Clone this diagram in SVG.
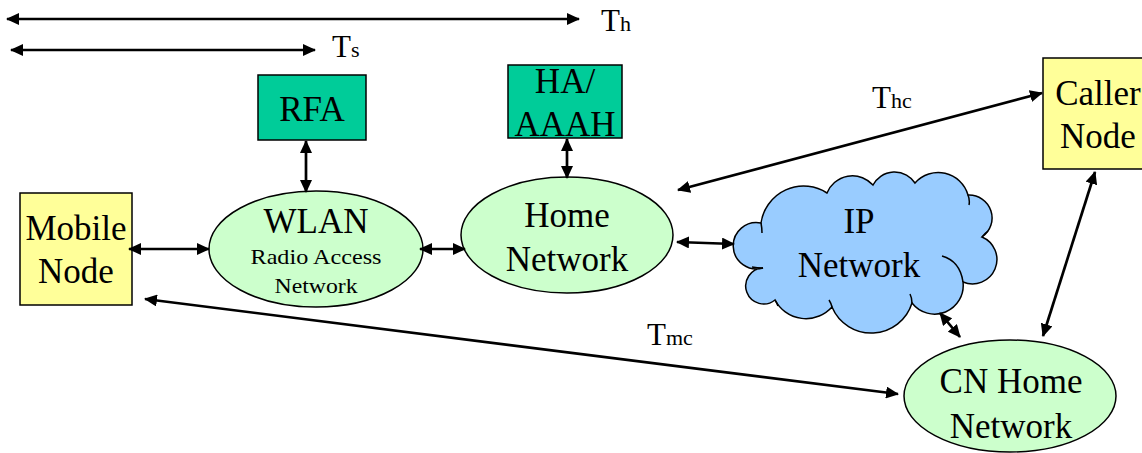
<svg xmlns="http://www.w3.org/2000/svg" width="1142" height="453" viewBox="0 0 1142 453">
  <style>
    .lbl { font-family: "Liberation Serif", "Times New Roman", serif; fill: #000; }
    .big { font-size: 35px; text-anchor: middle; }
    .small { font-size: 21px; text-anchor: middle; }
    .box { stroke: #000; stroke-width: 1.5; }
    .mn { fill: #FFFF99; }
    .agent { fill: #00CC99; }
    .net { fill: #CCFFCC; stroke: #000; stroke-width: 1.5; }
    .cloud { fill: #99CCFF; stroke: #000; stroke-width: 1.5; }
    .cloudline { fill: none; stroke: #000; stroke-width: 1.5; }
    .conn line { stroke: #000; stroke-width: 2.7; marker-start: url(#ah); marker-end: url(#ah); }
  </style>
  <defs>
    <marker id="ah" viewBox="0 0 13 12" refX="12" refY="6" markerWidth="13" markerHeight="12" markerUnits="userSpaceOnUse" orient="auto-start-reverse">
      <path d="M0,0 L13,6 L0,12 z" fill="#000"/>
    </marker>
  </defs>

  <rect width="1142" height="453" fill="#fff"/>

  <!-- timing spans -->
  <g id="timing-labels" class="lbl">
    <text x="601" y="31"><tspan font-size="31">T</tspan><tspan font-size="22">h</tspan></text>
    <text x="332" y="57"><tspan font-size="31">T</tspan><tspan font-size="22">s</tspan></text>
    <text x="872" y="108"><tspan font-size="31">T</tspan><tspan font-size="22">hc</tspan></text>
    <text x="647" y="345"><tspan font-size="31">T</tspan><tspan font-size="22">mc</tspan></text>
  </g>

  <g id="mobile-node">
    <rect class="box mn" x="20" y="193" width="112" height="112"/>
    <text class="lbl big" x="76" y="240">Mobile</text>
    <text class="lbl big" x="76" y="283">Node</text>
  </g>

  <g id="rfa">
    <rect class="box agent" x="258" y="75" width="108" height="65"/>
    <text class="lbl big" x="312" y="121">RFA</text>
  </g>

  <g id="ha-aaah">
    <rect class="box agent" x="508" y="65" width="114" height="73"/>
    <text class="lbl big" x="565" y="93">HA/</text>
    <text class="lbl big" x="565" y="136">AAAH</text>
  </g>

  <g id="wlan">
    <ellipse class="net" cx="316" cy="249" rx="107" ry="58"/>
    <text class="lbl big" x="316" y="233">WLAN</text>
    <text class="lbl small" x="316" y="264" textLength="131" lengthAdjust="spacingAndGlyphs">Radio Access</text>
    <text class="lbl small" x="316" y="293" textLength="83" lengthAdjust="spacingAndGlyphs">Network</text>
  </g>

  <g id="home-network">
    <ellipse class="net" cx="567" cy="235" rx="106" ry="58"/>
    <text class="lbl big" x="567" y="227">Home</text>
    <text class="lbl big" x="567" y="271">Network</text>
  </g>

  <g id="ip-network">
    <path class="cloud" d="M761,223 A43 43 0 0 1 827,193 A27.5 27.5 0 0 1 873,185 A24.4 24.4 0 0 1 915,183 A31 31 0 0 1 968,195 A23 23 0 0 1 982,237 A24.4 24.4 0 0 1 963,282 A28.6 28.6 0 0 1 912,303 A42.6 42.6 0 0 1 832,307 A35 35 0 0 1 775,300 A18 18 0 1 1 763,268 A23.2 23.2 0 1 1 761,223 Z"/>
    <path class="cloudline" d="M761,223 Q762,228 762,233 M942,256 Q960,261 963,282 M763,268 Q757,268 752,267 M982,237 Q985,233 988,231 M912,303 Q912,298 910,294 M832,307 Q831,303 829,300 M775,300 Q777,303 778,306 M968,195 Q970,200 969,205"/>
    <text class="lbl big" x="859" y="233">IP</text>
    <text class="lbl big" x="859" y="277">Network</text>
  </g>

  <g id="caller-node">
    <rect class="box mn" x="1043" y="58" width="112" height="111"/>
    <text class="lbl big" x="1098" y="105">Caller</text>
    <text class="lbl big" x="1098" y="148">Node</text>
  </g>

  <g id="cn-home-network">
    <ellipse class="net" cx="1010" cy="396" rx="106" ry="56"/>
    <text class="lbl big" x="1011" y="393">CN Home</text>
    <text class="lbl big" x="1011" y="438">Network</text>
  </g>

  <g id="connectors" class="conn">
    <line x1="7" y1="19" x2="579" y2="19"/>
    <line x1="11" y1="50" x2="315" y2="50"/>
    <line x1="306" y1="141" x2="306" y2="192"/>
    <line x1="567" y1="139" x2="567" y2="178"/>
    <line x1="129" y1="249" x2="209" y2="249"/>
    <line x1="420" y1="249" x2="465" y2="249"/>
    <line x1="677" y1="242" x2="734" y2="244"/>
    <line x1="678" y1="190" x2="1042" y2="93"/>
    <line x1="145" y1="299" x2="898" y2="394"/>
    <line x1="940" y1="313" x2="960" y2="337"/>
    <line x1="1095" y1="172" x2="1043" y2="336"/>
  </g>
</svg>
